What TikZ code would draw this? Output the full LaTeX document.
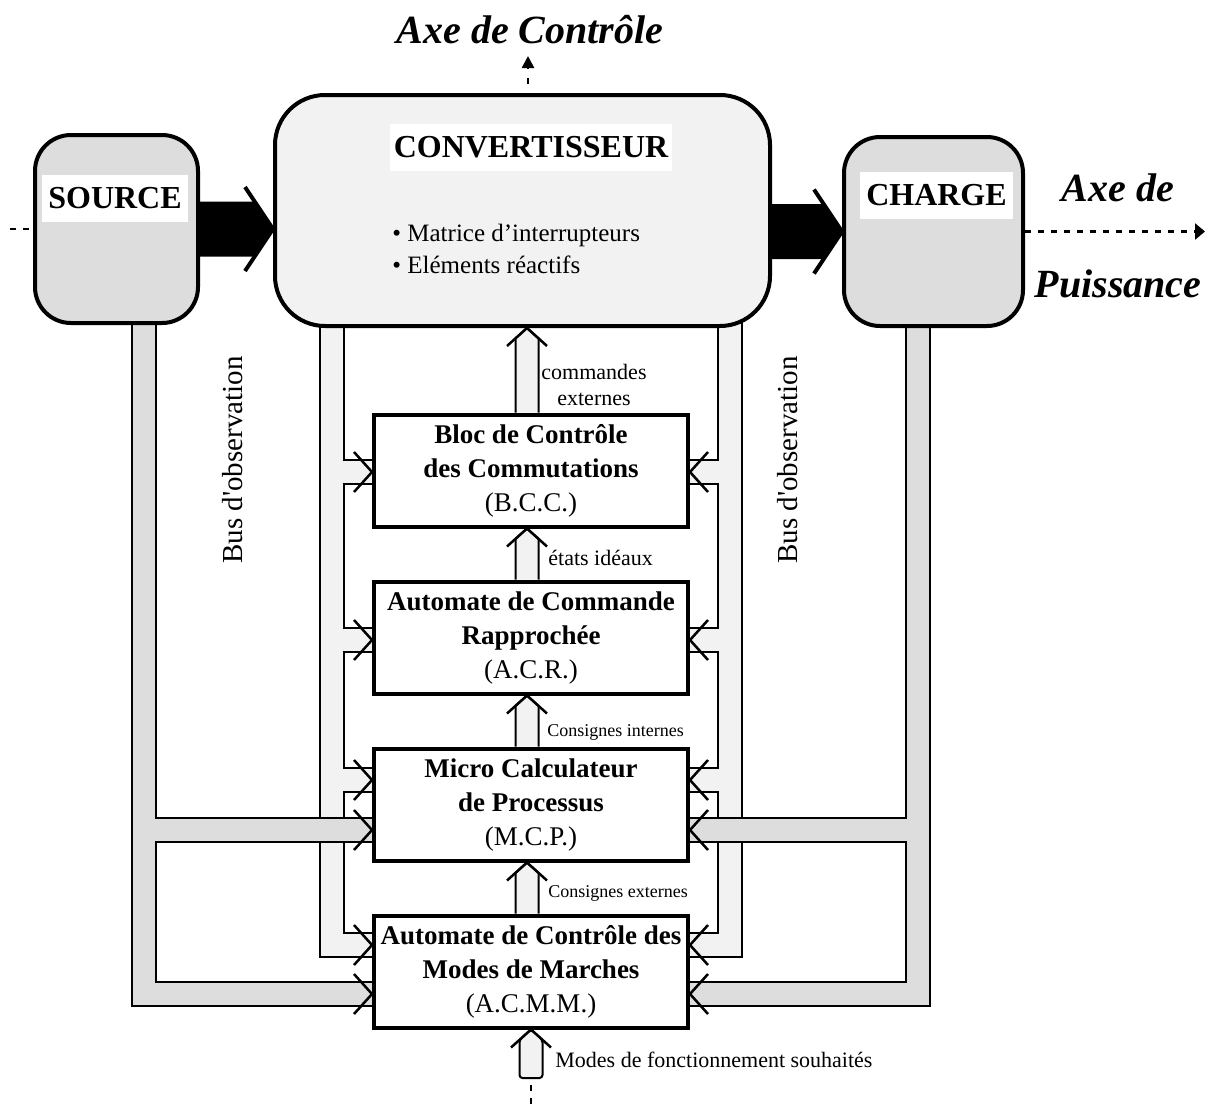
\documentclass[tikz,border=0pt]{standalone}
\usepackage{fontspec}
\setmainfont{Liberation Serif}
\newfontfamily\straightserif{Liberation Serif}[Ligatures=TeXOff]
\usetikzlibrary{arrows.meta, positioning, calc, backgrounds}

\definecolor{lightfill}{HTML}{F2F2F2}
\definecolor{darkfill}{HTML}{DDDDDD}

\tikzset{
  vtip/.pic={\draw[line width=1.25pt] (-18,-20) -- (0,0) -- (-18,20);},
  bigtip/.pic={\draw[line width=2pt] (-28,-42) -- (0,0) -- (-28,42);}
}

\begin{document}
\begin{tikzpicture}[x=0.5pt, y=-0.5pt, node distance=25.5pt, line join=miter]
        \tikzstyle{end box} = [draw, line width=2pt, rounded corners=18pt, fill=darkfill]
        \tikzstyle{conv box} = [draw, line width=2pt, rounded corners=25pt, fill=lightfill, minimum width=247.5pt, minimum height=115.5pt]
        \tikzstyle{name tag} = [fill=white, inner xsep=3pt, minimum height=23.5pt, font=\fontsize{16}{19}\selectfont\bfseries]
        \tikzstyle{block} = [draw, line width=2pt, fill=white, minimum width=157pt, minimum height=56pt, align=center, inner sep=2pt, font=\fontsize{13.5}{17}\selectfont]
        \tikzstyle{axis label} = [inner sep=0pt, align=center, font=\fontsize{20}{48}\selectfont\bfseries\itshape]
        \tikzstyle{bus label} = [rotate=90, inner sep=0pt, font=\straightserif\fontsize{14.5}{17}\selectfont]
        \tikzstyle{signal label} = [inner sep=0pt, align=center, font=\fontsize{11}{13}\selectfont]
        \tikzstyle{small signal} = [inner sep=0pt, font=\fontsize{9}{11}\selectfont]
        \tikzstyle{axis line} = [line width=1.3pt, dash pattern=on 3pt off 3.5pt]
        \tikzstyle{hollow arrow} = [line width=1pt, fill=lightfill]

        \useasboundingbox (0,0) rectangle (1215,1104);

        % axe de puissance
        \node[end box, minimum width=81.5pt, minimum height=94pt] (src) at (116.5,229) {};
        \node[conv box] (conv) at (522.5,210.5) {};
        \node[end box, minimum width=89.5pt, minimum height=94.5pt] (chg) at (933.5,231.5) {};

        \node[name tag] (srctag) at ($(src)+(-1.5,-30.5)$) {SOURCE};
        \node[name tag] (chgtag) at ($(chg)+(3,-36)$) {CHARGE};
        \node[name tag, inner xsep=2pt] (convtag) at ($(conv)+(8.5,-63.5)$) {CONVERTISSEUR};
        \node[anchor=west, inner sep=0pt, align=left, font=\fontsize{12.5}{16}\selectfont] (convlist) at (392,249)
            {• Matrice d’interrupteurs\\• Eléments réactifs};

        % axe de controle
        \node[block] (bcc) at (531,470.5) {\textbf{Bloc de Contrôle}\\\textbf{des Commutations}\\(B.C.C.)};
        \node[block, below=of bcc] (acr) {\textbf{Automate de Commande}\\\textbf{Rapprochée}\\(A.C.R.)};
        \node[block, below=of acr] (mcp) {\textbf{Micro Calculateur}\\\textbf{de Processus}\\(M.C.P.)};
        \node[block, below=of mcp] (acmm) {\textbf{Automate de Contrôle des}\\\textbf{Modes de Marches}\\(A.C.M.M.)};

        % bus d'observation
        \begin{scope}[on background layer]
            \foreach \col/\wd in {black/13pt, lightfill/11pt}
                \draw[draw=\col, line width=\wd]
                    (conv.center -| 332,0) |- (acmm.west |- 0,945)
                    (332,472) -- (bcc.west |- 0,472)
                    (332,640) -- (acr.west |- 0,640)
                    (332,780) -- (mcp.west |- 0,780)
                    (conv.center -| 730,0) |- (acmm.east |- 0,945)
                    (730,472) -- (bcc.east |- 0,472)
                    (730,640) -- (acr.east |- 0,640)
                    (730,780) -- (mcp.east |- 0,780);
            \foreach \col/\wd in {black/13pt, darkfill/11pt}
                \draw[draw=\col, line width=\wd]
                    (src.center -| 144,0) |- (acmm.west |- 0,994)
                    (144,830) -- (mcp.west |- 0,830)
                    (chg.center -| 918,0) |- (acmm.east |- 0,994)
                    (918,830) -- (mcp.east |- 0,830);
        \end{scope}
        \foreach \blk/\yy in {bcc/472, acr/640, mcp/780, mcp/830, acmm/945, acmm/994} {
            \pic at (\blk.west |- 0,\yy) {vtip};
            \pic[rotate=180] at (\blk.east |- 0,\yy) {vtip};
        }

        % fleches de puissance
        \coordinate (tipin) at (conv.west |- src.east);
        \fill ($(src.east)+(0,-27.5)$) -- ($(tipin)+(-18,-27.5)$) -- (tipin) -- ($(tipin)+(-18,27.5)$) -- ($(src.east)+(0,27.5)$) -- cycle;
        \pic at (tipin) {bigtip};
        \coordinate (tipout) at (chg.west);
        \fill ($(conv.east |- chg.west)+(0,-27.5)$) -- ($(tipout)+(-18,-27.5)$) -- (tipout) -- ($(tipout)+(-18,27.5)$) -- ($(conv.east |- chg.west)+(0,27.5)$) -- cycle;
        \pic at (tipout) {bigtip};

        % commandes entre blocs
        \foreach \lo/\hi in {bcc/conv, acr/bcc, mcp/acr, acmm/mcp} {
            \coordinate (base) at ($(\lo.north)+(-4,0)$);
            \coordinate (tip) at (base |- \hi.south);
            \filldraw[hollow arrow] ($(base)+(-11.5,0)$) -- ($(tip)+(-11.5,10.35)$) -- (tip) -- ($(tip)+(11.5,10.35)$) -- ($(base)+(11.5,0)$);
            \pic[rotate=90] at (tip) {vtip};
        }
        \coordinate (modestail) at (531,1078);
        \filldraw[hollow arrow, rounded corners=1.5pt] (modestail) -- ++(-11.5,0) -- ($(acmm.south)+(-11.5,10.35)$) -- (acmm.south)
            -- ($(acmm.south)+(11.5,10.35)$) -- ($(modestail)+(11.5,0)$) -- cycle;
        \pic[rotate=90] at (acmm.south) {vtip};

        % axes
        \coordinate (pwrin) at (10,229);
        \coordinate (pwrout) at (1205,231.5);
        \coordinate (ctrlout) at (528,56);
        \coordinate (modesin) at (531,1104);
        \coordinate (modesdots) at (531,1084);
        \draw[axis line] (pwrin) -- (src.west);
        \draw[axis line, -{Triangle[length=5pt, width=8pt]}] (chg.east) -- (pwrout);
        \draw[axis line, dash pattern=on 3pt off 4.5pt, dash phase=3pt, -{Triangle[length=6pt, width=6pt]}] (conv.north -| ctrlout) -- (ctrlout);
        \draw[axis line] (modesin) -- (modesdots);

        \node[axis label] (ctrllabel) at (530,30) {Axe de Contrôle};
        \node[axis label] (pwrlabel) at (1118,236) {Axe de\\Puissance};

        \node[bus label] (lbuslabel) at (233,460) {Bus d'observation};
        \node[bus label] (rbuslabel) at (788,460) {Bus d'observation};

        \node[signal label] (cmdlabel) at (594,385) {commandes\\externes};
        \node[signal label, anchor=west] (etatlabel) at (548,558) {états idéaux};
        \node[small signal, anchor=west] (cintlabel) at (547,732) {Consignes internes};
        \node[small signal, anchor=west] (cextlabel) at (548,893) {Consignes externes};
        \node[signal label, anchor=west] (modelabel) at (555,1060) {Modes de fonctionnement souhaités};
\end{tikzpicture}
\end{document}
